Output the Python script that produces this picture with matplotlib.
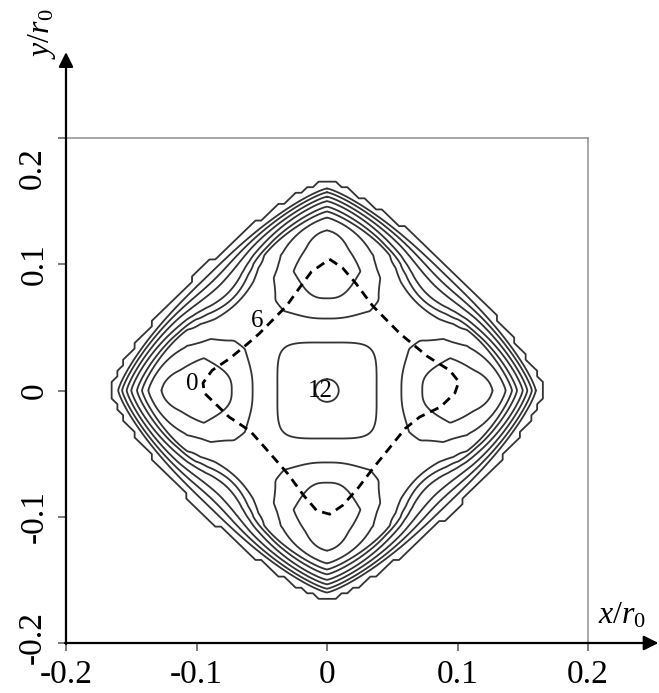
import numpy as np
import matplotlib
matplotlib.use("Agg")
import matplotlib.pyplot as plt

plt.rcParams["font.family"] = ["Liberation Serif", "DejaVu Serif"]
plt.rcParams["mathtext.fontset"] = "custom"
plt.rcParams["mathtext.rm"] = "Liberation Serif"
plt.rcParams["mathtext.it"] = "Liberation Serif:italic"

# ---------------- data ----------------
# surface value along the x / y axes, versus shape radius rho
axis_rho = [0.0, 0.009, 0.038, 0.057, 0.073, 0.097, 0.127, 0.137, 0.1417, 0.1456,
            0.150, 0.1535, 0.157, 0.160, 0.168, 0.25]
axis_v = [12.0, 11.5, 9.0, 4.0, 1.2, 0.0, 1.2, 4.0, 9.0, 11.5,
          14.0, 17.0, 20.0, 23.0, 30.0, 80.0]
# surface value along the diagonals, versus shape radius rho
diag_rho = [0.0, 0.009, 0.0395, 0.0547, 0.064, 0.0752, 0.0955, 0.1076, 0.1245,
            0.1436, 0.151, 0.158, 0.168, 0.25]
diag_v = [12.0, 11.5, 9.0, 6.0, 5.0, 6.0, 9.0, 11.5, 14.0,
          17.0, 20.0, 23.0, 30.0, 80.0]
contour_levels = [1.2, 4.0, 9.0, 11.5, 14.0, 17.0, 20.0, 23.0]
boundary_rho = 0.168        # edge of the computed region (stepped outer line)

# dashed minimum-energy path
path_x = [0.002, 0.012, 0.022, 0.035, 0.056, 0.077, 0.094, 0.101, 0.098, 0.087,
          0.071, 0.060, 0.035, 0.024, 0.012, 0.002, -0.008, -0.018, -0.030,
          -0.052, -0.059, -0.075, -0.087, -0.094, -0.095, -0.088, -0.075,
          -0.062, -0.052, -0.031, -0.022, -0.012, 0.002]
path_y = [0.104, 0.097, 0.085, 0.067, 0.045, 0.027, 0.016, 0.007, -0.002, -0.013,
          -0.021, -0.030, -0.062, -0.077, -0.091, -0.098, -0.095, -0.083, -0.066,
          -0.040, -0.032, -0.021, -0.009, -0.002, 0.006, 0.016, 0.025,
          0.036, 0.045, 0.067, 0.080, 0.094, 0.104]

point_labels = ["0", "6", "12"]
point_x = [-0.103, -0.0534, -0.0054]
point_y = [0.0, 0.050, -0.0055]

tick_values = [-0.2, -0.1, 0.0, 0.1, 0.2]
tick_labels = ["-0.2", "-0.1", "0", "0.1", "0.2"]


def smoothstep(u):
    u = np.clip(u, 0.0, 1.0)
    return u * u * (3 - 2 * u)


def shape_radius(x, y):
    """circle at the centre, rounded square further out, bulged diamond at the wall"""
    r = np.hypot(x, y)
    q = 2.0 + 2.0 * smoothstep((r - 0.012) / 0.023) - 2.74 * smoothstep((r - 0.070) / 0.045)
    ax_, ay_ = np.abs(x), np.abs(y)
    big = np.maximum(np.maximum(ax_, ay_), 1e-12)
    return big * ((ax_ / big) ** q + (ay_ / big) ** q) ** (1 / q)


# ---------------- figure ----------------
W, H = 659, 693
fig = plt.figure(figsize=(W / 100, H / 100), dpi=100)
ax = fig.add_axes([66 / W, 50 / H, 522 / W, 505 / H])
ax.set_xlim(-0.2, 0.2)
ax.set_ylim(-0.2, 0.2)

g = np.linspace(-0.2, 0.2, 801)
X, Y = np.meshgrid(g, g)
TH = np.arctan2(Y, X)
wgt = ((1 - np.cos(4 * TH)) / 2) ** 1.5
RHO = shape_radius(X, Y)
V = (1 - wgt) * np.interp(RHO, axis_rho, axis_v) + wgt * np.interp(RHO, diag_rho, diag_v)
ax.contour(X, Y, V, levels=contour_levels, colors="#333333", linewidths=1.3)

# stepped outer line on a coarse grid
gc = np.arange(-0.2, 0.2001, 0.0044)
Xc, Yc = np.meshgrid(gc, gc)
inside = (shape_radius(Xc, Yc) < boundary_rho).astype(float)
ax.contour(Xc, Yc, inside, levels=[0.95], colors="#333333", linewidths=1.3)

# dashed path
ax.plot(path_x, path_y, color="black", lw=2.0, linestyle=(0, (3.3, 2.2)))

for s, x, y in zip(point_labels, point_x, point_y):
    ax.text(x, y, s, ha="center", va="baseline", fontsize=18, color="black")

# frame: grey top/right, black axes with arrows
for side in ["top", "right"]:
    ax.spines[side].set_color("#8f8f8f")
    ax.spines[side].set_linewidth(1.1)
for side in ["left", "bottom"]:
    ax.spines[side].set_visible(False)

ax.annotate("", xy=(0, 1.17), xytext=(0, -0.002), xycoords="axes fraction",
            arrowprops=dict(arrowstyle="-|>", lw=1.6, color="black",
                            mutation_scale=22, shrinkA=0, shrinkB=0))
ax.annotate("", xy=(1.135, 0), xytext=(-0.002, 0), xycoords="axes fraction",
            arrowprops=dict(arrowstyle="-|>", lw=1.6, color="black",
                            mutation_scale=22, shrinkA=0, shrinkB=0))

ax.set_xticks(tick_values)
ax.set_xticklabels(tick_labels)
ax.set_yticks(tick_values)
ylabels = [s if abs(v) < 0.15 else "" for v, s in zip(tick_values, tick_labels)]
ax.set_yticklabels(ylabels, rotation=90, va="center")
ax.tick_params(axis="both", direction="out", length=6, width=1.1, color="#555555",
               labelsize=24, pad=6)
# end labels of the y axis are nudged (top one clear of the arrow)
ax.annotate(tick_labels[-1], xy=(0, tick_values[-1]), xycoords=("axes fraction", "data"),
            xytext=(-34, -30), textcoords="offset pixels", rotation=90,
            ha="center", va="center", fontsize=24)
ax.annotate(tick_labels[0], xy=(0, tick_values[0]), xycoords=("axes fraction", "data"),
            xytext=(-34, 6), textcoords="offset pixels", rotation=90,
            ha="center", va="center", fontsize=24)

fig.text(598 / W, 1 - 623 / H, r"$\mathit{x/r_0}$", fontsize=23, ha="left", va="baseline")
fig.text(42 / W, 1 - 34 / H, r"$\mathit{y/r_0}$", fontsize=23, ha="center", va="center",
         rotation=90)

fig.savefig("out.png", dpi=100)
